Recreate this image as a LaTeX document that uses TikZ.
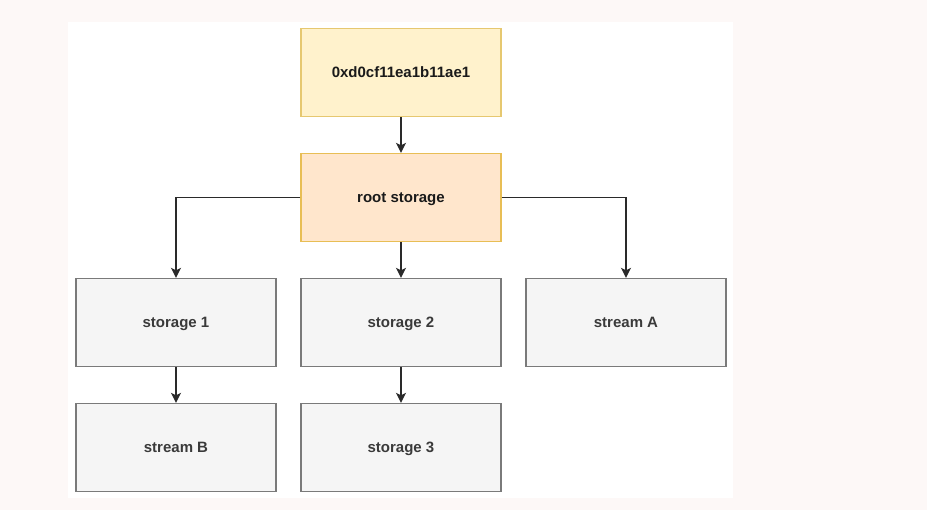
\documentclass[tikz,border=0pt]{standalone}
\usepackage{fontspec}
\setmainfont{Liberation Sans}
\usetikzlibrary{arrows.meta}
\definecolor{outerbg}{RGB}{253,248,247}
\definecolor{ylfill}{HTML}{FFF2CC}
\definecolor{yldraw}{HTML}{E6C870}
\definecolor{orfill}{HTML}{FFE6CC}
\definecolor{ordraw}{HTML}{E8BE55}
\definecolor{gyfill}{HTML}{F5F5F5}
\definecolor{gydraw}{HTML}{7A7A7A}
\definecolor{gytext}{HTML}{3A3A3A}
\definecolor{lncol}{HTML}{2A2A2A}
\tikzset{
  x=1pt,y=-1pt,
  box/.style={minimum width=200pt,minimum height=88pt,inner sep=0pt,line width=1.3pt,text height=13pt,text depth=2pt,font=\fontsize{15}{17}\selectfont\bfseries},
  ylbox/.style={box,draw=yldraw,fill=ylfill,text={rgb,255:red,26;green,26;blue,26}},
  orbox/.style={box,draw=ordraw,fill=orfill,text={rgb,255:red,26;green,26;blue,26}},
  gybox/.style={box,draw=gydraw,fill=gyfill,text=gytext},
  conn/.style={draw=lncol,line width=1.3pt,-{Stealth[length=10pt,width=10pt,inset=2.5pt]}}
}
\begin{document}
\begin{tikzpicture}
\fill[outerbg] (0,0) rectangle (927,510);
\useasboundingbox (0,0) rectangle (927,510);
\fill[white] (68,22) rectangle (733,498);
\node[ylbox] (hdr) at (401,72.5) {0xd0cf11ea1b11ae1};
\node[orbox] (root) at (401,197.5) {root storage};
\node[gybox] (s1) at (176,322.5) {storage 1};
\node[gybox] (s2) at (401,322.5) {storage 2};
\node[gybox] (sa) at (626,322.5) {stream A};
\node[gybox] (sb) at (176,447.5) {stream B};
\node[gybox] (s3) at (401,447.5) {storage 3};
\draw[conn] (hdr) -- (root);
\draw[conn] (root.west) -| (s1.north);
\draw[conn] (root) -- (s2);
\draw[conn] (root.east) -| (sa.north);
\draw[conn] (s1) -- (sb);
\draw[conn] (s2) -- (s3);
\end{tikzpicture}
\end{document}
